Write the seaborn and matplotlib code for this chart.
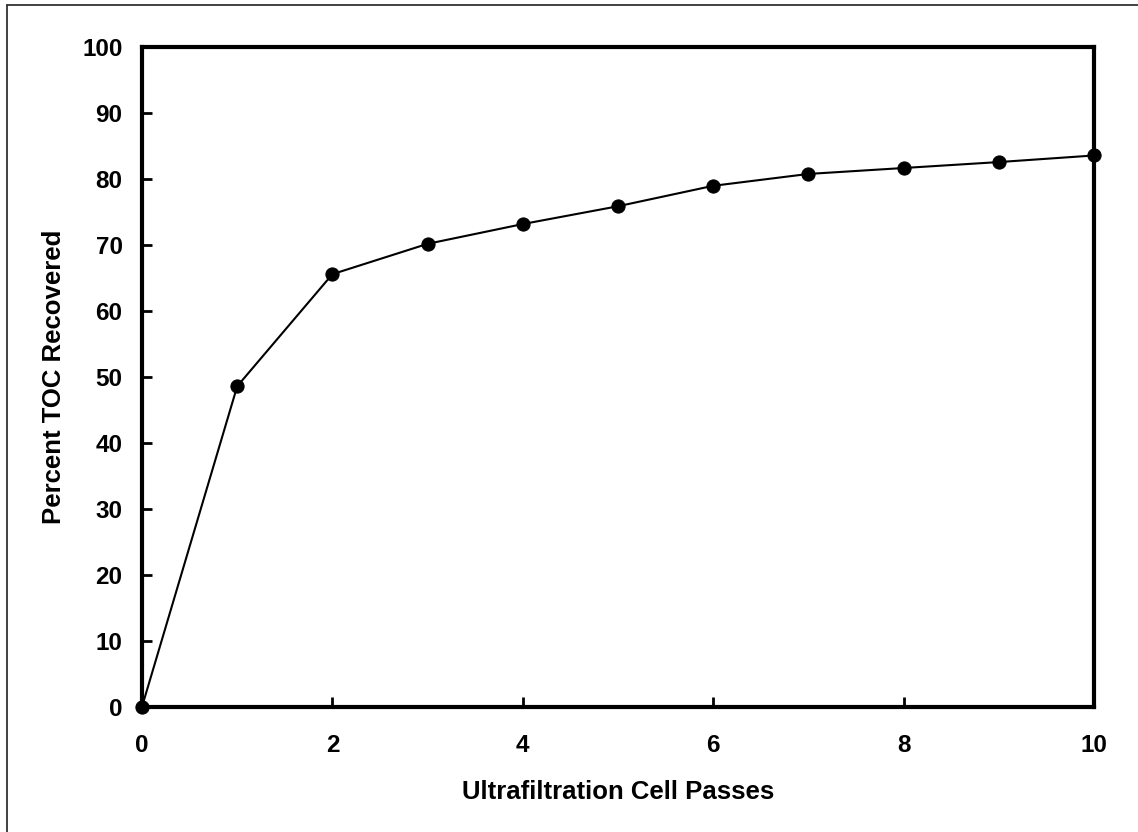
import matplotlib
matplotlib.use("Agg")
import matplotlib.pyplot as plt
import seaborn as sns
import pandas as pd
from matplotlib.lines import Line2D

# Cumulative TOC recovery after each ultrafiltration pass
passes = [0, 1, 2, 3, 4, 5, 6, 7, 8, 9, 10]
toc_recovered = [0.0, 48.6, 65.6, 70.2, 73.2, 75.9, 79.0, 80.8, 81.7, 82.6, 83.6]

x_ticks = [0, 2, 4, 6, 8, 10]
y_ticks = [0, 10, 20, 30, 40, 50, 60, 70, 80, 90, 100]

df = pd.DataFrame({"passes": passes, "toc": toc_recovered})

sns.set_theme(style="white")
plt.rcParams["font.family"] = ["Liberation Sans", "DejaVu Sans"]
plt.rcParams["font.weight"] = "bold"
plt.rcParams["xtick.direction"] = "in"
plt.rcParams["ytick.direction"] = "in"
plt.rcParams["text.color"] = "black"
plt.rcParams["axes.labelcolor"] = "black"

fig = plt.figure(figsize=(11.38, 8.32), dpi=100)
ax = fig.add_axes([0.1248, 0.1506, 0.8365, 0.7925])

sns.lineplot(data=df, x="passes", y="toc", ax=ax, color="black",
             linewidth=1.5, marker="o", markersize=9.5,
             markeredgecolor="black", markerfacecolor="black",
             clip_on=False, zorder=5)

ax.set_xlim(0, 10)
ax.set_ylim(0, 100)
ax.set_xticks(x_ticks)
ax.set_yticks(y_ticks)
ax.tick_params(axis="both", direction="in", length=7, width=2,
               labelsize=17.5, colors="black",
               top=False, right=False, bottom=True, left=True)
ax.tick_params(axis="x", pad=20)
ax.tick_params(axis="y", pad=14)
for lab in ax.get_xticklabels() + ax.get_yticklabels():
    lab.set_fontweight("bold")

for side in ["left", "right", "top", "bottom"]:
    ax.spines[side].set_visible(True)
    ax.spines[side].set_color("black")
    ax.spines[side].set_linewidth(3)

ax.set_xlabel("Ultrafiltration Cell Passes", fontsize=18.5,
              fontweight="bold", color="black", labelpad=16)
ax.set_ylabel("Percent TOC Recovered", fontsize=18.5,
              fontweight="bold", color="black", labelpad=12)
ax.grid(False)

# Thin outer frame along the left and top of the figure
fw, fh = 1138, 832
fig.add_artist(Line2D([6.5 / fw, 6.5 / fw], [0, 1 - 5 / fh],
                      transform=fig.transFigure, color="#333333", lw=1.3))
fig.add_artist(Line2D([6.5 / fw, 1], [1 - 5 / fh, 1 - 5 / fh],
                      transform=fig.transFigure, color="#333333", lw=1.3))

fig.savefig("out.png", dpi=100, facecolor="white")
